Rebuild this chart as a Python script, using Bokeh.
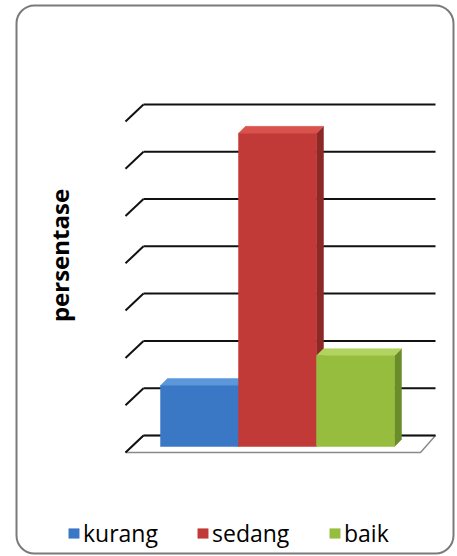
from math import pi

from bokeh.embed import file_html
from bokeh.models import (BoxAnnotation, ColumnDataSource, Label, Legend,
                          LegendItem, Range1d)
from bokeh.plotting import figure
from bokeh.resources import INLINE

# --- data -------------------------------------------------------------
categories = ["kurang", "sedang", "baik"]
persentase = [12.9, 66.2, 19.2]
grid_ticks = [0, 10, 20, 30, 40, 50, 60, 70]

front_colors = ["#3a78c6", "#c23a38", "#96bd3e"]
top_colors = ["#5c97dc", "#d9534c", "#b2d45e"]
side_colors = ["#2a5894", "#8c2826", "#6a8c29"]

# --- canvas geometry (pixels per data unit) ---------------------------
W, H = 457, 556
PX = 78.0          # pixels per category slot
PY = 4.73          # pixels per percent
X0 = 199.0         # pixel column of the first category centre
Y0 = 446.0         # pixel row (from top) of the 0 % baseline


def xd(px):
    """pixel column -> data x"""
    return (px - X0) / PX


def yd(py):
    """pixel row (from top) -> data y"""
    return (Y0 - py) / PY


p = figure(width=W, height=H, output_backend="svg", toolbar_location=None,
           x_axis_location=None, y_axis_location=None,
           x_range=Range1d(xd(0), xd(W)), y_range=Range1d(yd(H), yd(0)),
           min_border=0, outline_line_color=None, background_fill_color="white",
           border_fill_color="white")
p.grid.visible = False

# 3-D depth offsets in data units
BACK_DY = 11 / PY          # back wall lies above the bar baseline
FRONT_DY = -6 / PY         # front edge of the side wall / floor
WALL_X0, WALL_X1 = xd(143), xd(435)
SIDE_X = xd(125)
BAR_DX, BAR_DY = 7 / PX, 7 / PY
HALF = 0.5

# floor
p.patch([SIDE_X, WALL_X0, WALL_X1, xd(420)],
        [FRONT_DY, BACK_DY, BACK_DY, FRONT_DY],
        fill_color="white", line_color="#8a8a8a", line_width=1.5)

# gridlines: diagonal across the side wall + horizontal along the back wall
gy = [t + BACK_DY for t in grid_ticks]
p.segment(x0=[WALL_X0] * len(gy), y0=gy, x1=[WALL_X1] * len(gy), y1=gy,
          line_color="#111111", line_width=2)
p.segment(x0=[SIDE_X] * len(gy), y0=[t + FRONT_DY for t in grid_ticks],
          x1=[WALL_X0] * len(gy), y1=gy, line_color="#111111", line_width=2)

# bars: side and top faces first, front faces on top
idx = list(range(len(categories)))
left = [i - HALF for i in idx]
right = [i + HALF for i in idx]

side_xs, side_ys, top_xs, top_ys = [], [], [], []
for i in idx:
    v = persentase[i]
    l, r = left[i], right[i]
    side_xs.append([r, r, r + BAR_DX, r + BAR_DX])
    side_ys.append([0, v, v + BAR_DY, BAR_DY])
    top_xs.append([l, r, r + BAR_DX, l + BAR_DX])
    top_ys.append([v, v, v + BAR_DY, v + BAR_DY])

p.patches(side_xs, side_ys, fill_color=side_colors, line_color=side_colors, line_width=0.5)
p.patches(top_xs, top_ys, fill_color=top_colors, line_color=top_colors, line_width=0.5)

src = ColumnDataSource(dict(cat=categories, val=persentase, left=left, right=right,
                            bottom=[0] * len(idx), color=front_colors))
fronts = p.quad(left="left", right="right", bottom="bottom", top="val",
                fill_color="color", line_color="color", line_width=0.5, source=src)

# axis title
p.add_layout(Label(x=xd(59), y=yd(255), text="persentase", angle=pi / 2,
                   text_align="center", text_baseline="alphabetic",
                   text_font="Open Sans", text_font_style="bold",
                   text_font_size="24px", text_color="black"))

# legend, one entry per category placed along the bottom
legend_x = [67, 196, 328]
for i, cat in enumerate(categories):
    lg = Legend(items=[LegendItem(label=cat, renderers=[fronts], index=i)],
                location=(legend_x[i], 7), orientation="horizontal",
                padding=0, margin=0, border_line_color=None,
                background_fill_alpha=0, glyph_width=13, glyph_height=12,
                label_standoff=3, label_text_font="Open Sans",
                label_text_font_size="23px", label_text_color="black")
    p.add_layout(lg)

# rounded outer frame
p.add_layout(BoxAnnotation(left=xd(16), right=xd(453), top=yd(5), bottom=yd(553),
                           fill_alpha=0, line_color="#7a7a7a", line_width=2,
                           line_alpha=1.0, border_radius=18))

open("out.html", "w").write(file_html(p, INLINE))
